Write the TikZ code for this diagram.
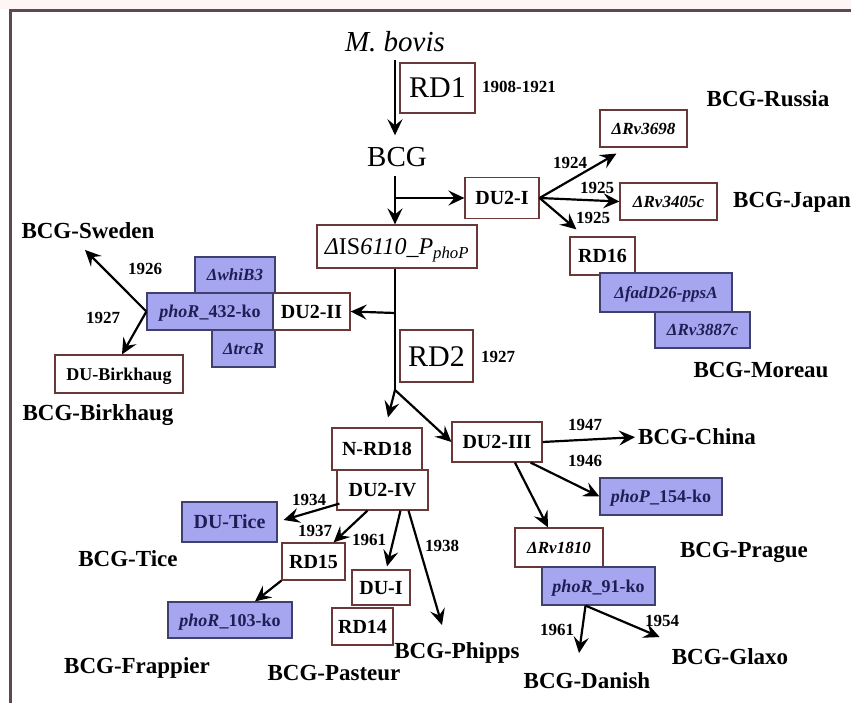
\documentclass[tikz,border=0pt]{standalone}
\usepackage{fontspec}
\setmainfont{Liberation Serif}
\usetikzlibrary{arrows.meta,calc}
\definecolor{framecol}{RGB}{92,74,82}
\definecolor{boxline}{RGB}{106,56,56}
\definecolor{koblue}{RGB}{166,166,240}
\definecolor{kobord}{RGB}{64,64,110}
\definecolor{kotext}{RGB}{30,30,85}

\begin{document}
\begin{tikzpicture}[x=1pt, y=-1pt,
	wbox/.style={draw=boxline, line width=1.2pt, fill=white, inner sep=0pt, minimum height=38pt, text height=13.5pt, text depth=0pt, font=\fontsize{20}{20}\selectfont\bfseries},
	kbox/.style={draw=kobord, line width=1.2pt, fill=koblue, text=kotext, inner sep=0pt, minimum height=37pt, text height=12pt, text depth=0pt, font=\fontsize{18}{18}\selectfont\bfseries},
	gene/.style={text height=11.5pt, font=\fontsize{17}{17}\selectfont\bfseries\itshape},
	big/.style={text height=20pt, font=\fontsize{30}{30}\selectfont},
	strain/.style={inner sep=0pt, text height=15.5pt, text depth=0pt, font=\fontsize{23}{23}\selectfont\bfseries},
	yr/.style={inner sep=0pt, text height=11.5pt, text depth=0pt, font=\fontsize{17}{17}\selectfont\bfseries},
	arr/.style={-{Stealth[length=16pt, width=15pt, inset=6pt]}, line width=2.2pt}]
				\useasboundingbox (0,0) rectangle (851,703);
				\fill[red!4] (0,0) rectangle (851,9);
				\draw[framecol, line width=3pt] (10,703) -- (10,11) -- (851,11);

				\node[inner sep=0pt, text height=19pt, text depth=0pt, font=\fontsize{29}{29}\selectfont\itshape] (bovis) at (395,42) {M. bovis};
				\node[inner sep=0pt, text height=19pt, text depth=0pt, font=\fontsize{29}{29}\selectfont] (BCG) at (397,157) {BCG};
				\node[wbox, big, minimum width=75pt, minimum height=50pt] (RDone) at (437.5,88) {RD1};
				\node[wbox, big, minimum width=73pt, minimum height=52pt] (RDtwo) at (436.5,356) {RD2};
				\node[wbox, minimum width=160pt, minimum height=43pt, text height=16pt, font=\fontsize{24}{24}\selectfont] (IS) at (397,246.5) {{\itshape Δ}IS{\itshape 6110\_P}\textsubscript{\itshape phoP}};

				\node[wbox, minimum width=74pt, minimum height=41pt] (DUI) at (502,198) {DU2-I};
				\node[wbox, gene, minimum width=87pt, minimum height=37pt] (Rv3698) at (643.5,128.5) {ΔRv3698};
				\node[wbox, gene, minimum width=97pt, minimum height=37pt] (Rv3405c) at (668.5,201.5) {ΔRv3405c};
				\node[wbox, minimum width=65pt] (RD16) at (602.5,256) {RD16};
				\node[kbox, gene, minimum width=132pt, minimum height=39pt] (fadD26) at (666,292.5) {ΔfadD26-ppsA};
				\node[kbox, gene, minimum width=95pt, minimum height=36pt] (Rv3887c) at (702.5,330) {ΔRv3887c};

				\node[wbox, minimum width=77pt, minimum height=37pt] (DUII) at (311.5,311.5) {DU2-II};
				\node[kbox, minimum width=126pt] (phoR432) at (210,311.5) {\textit{phoR}\_432-ko};
				\node[kbox, gene, minimum width=80pt, minimum height=36pt] (whiB3) at (235,275) {ΔwhiB3};
				\node[kbox, gene, minimum width=63pt] (trcR) at (243.5,348.5) {ΔtrcR};
				\node[wbox, minimum width=128pt, font=\fontsize{18}{18}\selectfont\bfseries, text height=12pt] (DUBirk) at (119,374) {DU-Birkhaug};

				\node[wbox, minimum width=90pt, minimum height=42pt] (NRD18) at (377,449) {N-RD18};
				\node[wbox, minimum width=91pt, minimum height=40pt] (DUIV) at (382.5,490) {DU2-IV};
				\node[wbox, minimum width=90pt, minimum height=40pt] (DUIII) at (497,442) {DU2-III};
				\node[wbox, gene, minimum width=88pt, minimum height=39pt] (Rv1810) at (559,547.5) {ΔRv1810};
				\node[kbox, minimum width=122pt] (phoP154) at (661,496.5) {\textit{phoP}\_154-ko};
				\node[kbox, minimum width=113pt, minimum height=38pt] (phoR91) at (598.5,586) {\textit{phoR}\_91-ko};

				\node[kbox, minimum width=95pt, minimum height=40pt, font=\fontsize{20}{20}\selectfont\bfseries, text height=13.5pt] (DUTice) at (229.5,522) {DU-Tice};
				\node[wbox, minimum width=63pt, minimum height=37pt] (RD15) at (313.5,561.5) {RD15};
				\node[wbox, minimum width=58pt, minimum height=35pt] (DUone) at (381,587.5) {DU-I};
				\node[wbox, minimum width=61pt, minimum height=37pt] (RD14) at (362.5,626.5) {RD14};
				\node[kbox, minimum width=124pt, minimum height=36pt] (phoR103) at (230,620) {\textit{phoR}\_103-ko};

				\node[strain] (Sweden) at (88,231) {BCG-Sweden};
				\node[strain] (Birkhaug) at (98,413) {BCG-Birkhaug};
				\node[strain] (Russia) at (768,99) {BCG-Russia};
				\node[strain] (Japan) at (792,200) {BCG-Japan};
				\node[strain] (Moreau) at (761,370) {BCG-Moreau};
				\node[strain] (China) at (697,437) {BCG-China};
				\node[strain] (Tice) at (128,559) {BCG-Tice};
				\node[strain] (Frappier) at (137,666) {BCG-Frappier};
				\node[strain] (Pasteur) at (334,673) {BCG-Pasteur};
				\node[strain] (Phipps) at (457,651) {BCG-Phipps};
				\node[strain] (Prague) at (744,550) {BCG-Prague};
				\node[strain] (Danish) at (587,681) {BCG-Danish};
				\node[strain] (Glaxo) at (730,657) {BCG-Glaxo};

				\node[yr] (y1908) at (519,87) {1908-1921};
				\node[yr] (y1927a) at (498,357) {1927};
				\node[yr] (y1924) at (570,163) {1924};
				\node[yr] (y1925a) at (597,188) {1925};
				\node[yr] (y1925b) at (593,218) {1925};
				\node[yr] (y1926) at (145,269) {1926};
				\node[yr] (y1927b) at (103,318) {1927};
				\node[yr] (y1947) at (585,425) {1947};
				\node[yr] (y1946) at (585,461) {1946};
				\node[yr] (y1934) at (309,500) {1934};
				\node[yr] (y1937) at (315,531) {1937};
				\node[yr] (y1961a) at (369,540) {1961};
				\node[yr] (y1938) at (442,546) {1938};
				\node[yr] (y1961b) at (557,630) {1961};
				\node[yr] (y1954) at (662,621) {1954};

				\coordinate (fork) at (395,198);
				\coordinate (toII) at (395,313);
				\coordinate (split) at (395,390);
				\draw[arr, shorten <=8pt, shorten >=12pt] (bovis.south) -- (bovis.south |- BCG.north);
				\draw[arr, shorten <=9pt] (BCG.south -| fork) -- (IS.north -| fork);
				\draw[arr] (fork) -- (DUI.west);
				\draw[line width=2.2pt] (IS.south -| split) -- (split);
				\draw[arr] (toII) -- (DUII.east);
				\draw[arr] (split) -- ($(NRD18.north)+(11,-10)$);
				\draw[arr] (split) -- (DUIII.west);

				\draw[arr] (DUI.east) -- ($(Rv3698.south west)+(17,6)$);
				\draw[arr] (DUI.east) -- (Rv3405c.west);
				\draw[arr] (DUI.east) -- ($(RD16.north west)+(7,-7)$);

				\draw[arr] (phoR432.west) -- ($(Sweden.south)+(-3,11)$);
				\draw[arr] (phoR432.west) -- ($(DUBirk.north)+(3,0)$);

				\draw[arr, shorten >=3pt] (DUIII.east) -- (China.west);
				\draw[arr] ($(DUIII.south east)+(-12,0)$) -- (phoP154.west);
				\draw[arr] ($(DUIII.south)+(18,0)$) -- ($(Rv1810.north)+(-11,0)$);

				\coordinate (n91) at ($(phoR91.south)+(-13,0)$);
				\draw[arr] (n91) -- ($(Danish.north)+(-8,-20)$);
				\draw[arr] (n91) -- ($(Glaxo.north west)+(-12,-12)$);

				\draw[arr] ($(DUIV.south west)+(3,-7)$) -- ($(DUTice.east)+(6,-2)$);
				\draw[arr] ($(DUIV.south)+(-15,0)$) -- ($(RD15.north east)+(-12,0)$);
				\draw[arr] ($(DUIV.south)+(18,0)$) -- ($(DUone.north)+(6,-3)$);
				\draw[arr] ($(DUIV.south)+(26,0)$) -- ($(Phipps.north)+(-15,-18)$);
				\draw[arr] (RD15.south west) -- ($(phoR103.north)+(25,0)$);
			\end{tikzpicture}
\end{document}
